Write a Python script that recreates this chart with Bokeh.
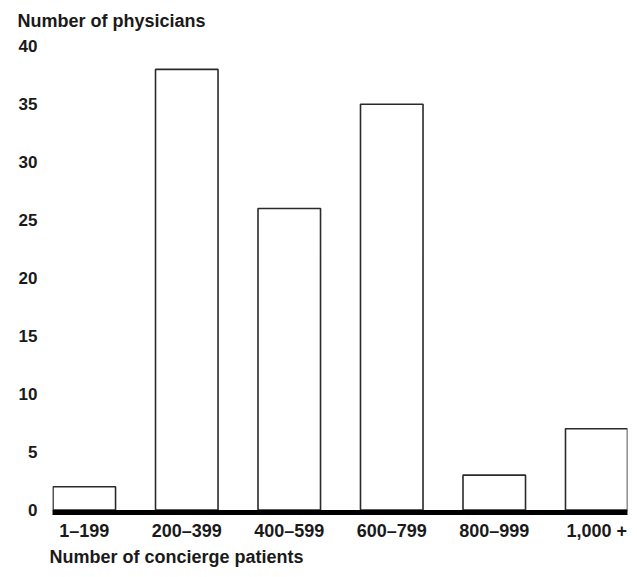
from bokeh.plotting import figure
from bokeh.models import Range1d, FixedTicker, Title, ColumnDataSource
from bokeh.embed import file_html
from bokeh.resources import INLINE

# Data
categories = ["1\u2013199", "200\u2013399", "400\u2013599", "600\u2013799", "800\u2013999", "1,000 +"]
physicians = [2, 38, 26, 35, 3, 7]
y_ticks = [0, 5, 10, 15, 20, 25, 30, 35, 40]
y_title = "Number of physicians"
x_title = "Number of concierge patients"

FONT = "Liberation Sans"
TXT = "#1a1a1a"

positions = list(range(len(categories)))
src = ColumnDataSource(dict(x=positions, top=physicians, cat=categories))

p = figure(width=629, height=569, output_backend="svg", toolbar_location=None,
           x_range=Range1d(-0.31, 5.30), y_range=Range1d(-0.22, 40.32),
           min_border_left=52, min_border_right=2, min_border_top=42, min_border_bottom=57)
p.outline_line_color = None
p.xgrid.visible = False
p.ygrid.visible = False
p.background_fill_color = "white"
p.border_fill_color = "white"

p.vbar(x="x", top="top", bottom=0, width=0.61, source=src,
       fill_color="white", line_color="#2a2a2a", line_width=1.6)

# y axis: labels only
ya = p.yaxis[0]
ya.ticker = FixedTicker(ticks=y_ticks)
ya.axis_line_color = None
ya.major_tick_line_color = None
ya.minor_tick_line_color = None
ya.major_tick_out = 0
ya.major_tick_in = 0
ya.major_label_standoff = 15
ya.major_label_text_font = FONT
ya.major_label_text_font_style = "bold"
ya.major_label_text_font_size = "17px"
ya.major_label_text_color = TXT

# x axis: thick baseline + category labels
xa = p.xaxis[0]
xa.ticker = FixedTicker(ticks=positions)
xa.major_label_overrides = {i: c for i, c in zip(positions, categories)}
xa.axis_line_color = "black"
xa.axis_line_width = 5
xa.major_tick_line_color = None
xa.minor_tick_line_color = None
xa.major_tick_out = 0
xa.major_tick_in = 0
xa.major_label_standoff = 8
xa.major_label_text_font = FONT
xa.major_label_text_font_style = "bold"
xa.major_label_text_font_size = "18px"
xa.major_label_text_color = TXT

p.add_layout(Title(text=y_title, align="left", offset=-35, standoff=20,
                   vertical_align="top",
                   text_font=FONT, text_font_style="bold", text_font_size="18px",
                   text_color=TXT), "above")
p.add_layout(Title(text=x_title, align="left", offset=-3, standoff=3,
                   text_font=FONT, text_font_style="bold", text_font_size="18px",
                   text_color=TXT), "below")

open("out.html", "w").write(file_html(p, INLINE))
